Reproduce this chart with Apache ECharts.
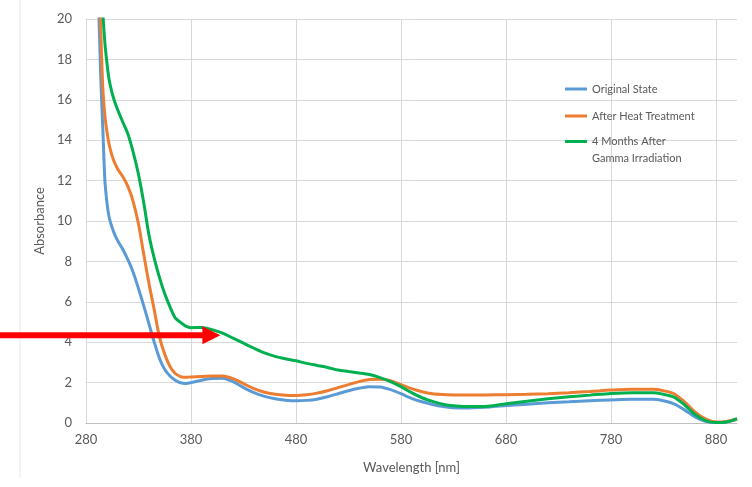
<!DOCTYPE html>
<html>
<head>
<meta charset="utf-8">
<script src="https://cdn.jsdelivr.net/npm/echarts@6.0.0/dist/echarts.min.js"></script>
<style>
  html, body { margin: 0; padding: 0; background: #fff; }
  #chart { width: 752px; height: 487px; }
</style>
</head>
<body>
<div id="chart"></div>
<script>
// wavelengths [nm] shared by all three spectra
var wavelengths = [290, 292, 294, 296, 298, 300, 302, 305, 308, 311, 315, 320, 325, 330, 335, 340, 345, 350, 355, 360,
  365, 370, 375, 380, 390, 400, 410, 420, 430, 440, 450, 460, 470, 480, 490, 500, 510, 520, 530, 540,
  550, 560, 570, 580, 590, 600, 610, 620, 630, 640, 660, 680, 700, 720, 740, 760, 780, 800, 820, 830,
  840, 850, 860, 870, 880, 890, 900];

var originalState = [25, 20.8, 17.2, 14.6, 12.0, 10.9, 10.2, 9.65, 9.25, 8.95, 8.6, 8.07, 7.45, 6.65, 5.8, 4.9, 4.0, 3.2, 2.65, 2.33,
  2.12, 1.99, 1.96, 2.0, 2.12, 2.2, 2.22, 2.05, 1.75, 1.5, 1.32, 1.2, 1.13, 1.1, 1.12, 1.18, 1.3, 1.45, 1.6, 1.72,
  1.8, 1.78, 1.65, 1.45, 1.22, 1.05, 0.92, 0.82, 0.76, 0.74, 0.78, 0.87, 0.93, 1.0, 1.05, 1.1, 1.14, 1.17, 1.17, 1.1,
  0.95, 0.65, 0.3, 0.08, 0.02, 0.05, 0.18];

var afterHeat = [26, 22.5, 19.5, 16.6, 15.2, 14.4, 13.8, 13.2, 12.8, 12.5, 12.2, 11.7, 10.95, 9.85, 8.35, 6.9, 5.6, 4.25, 3.4, 2.8,
  2.45, 2.3, 2.26, 2.28, 2.3, 2.33, 2.33, 2.2, 1.95, 1.7, 1.52, 1.42, 1.37, 1.36, 1.4, 1.48, 1.6, 1.75, 1.9, 2.05,
  2.15, 2.17, 2.1, 1.9, 1.7, 1.55, 1.45, 1.41, 1.39, 1.38, 1.39, 1.4, 1.42, 1.45, 1.5, 1.56, 1.63, 1.67, 1.67, 1.6,
  1.45, 1.05, 0.55, 0.2, 0.05, 0.08, 0.2];

var gammaMonths = [30, 26, 22, 20.3, 18.8, 17.8, 17.0, 16.3, 15.8, 15.4, 14.9, 14.3, 13.4, 12.3, 10.9, 9.3, 8.15, 7.2, 6.4, 5.75,
  5.2, 4.98, 4.8, 4.72, 4.73, 4.62, 4.45, 4.2, 3.95, 3.7, 3.47, 3.3, 3.18, 3.08, 2.95, 2.85, 2.75, 2.62, 2.55, 2.48,
  2.4, 2.25, 2.05, 1.8, 1.5, 1.25, 1.07, 0.93, 0.85, 0.82, 0.82, 0.95, 1.08, 1.2, 1.3, 1.38, 1.46, 1.5, 1.5, 1.42,
  1.28, 0.9, 0.42, 0.12, 0.02, 0.05, 0.22];

var seriesNames = ["Original State", "After Heat Treatment", "4 Months After\nGamma Irradiation"];
var seriesColors = ["#5B9BD5", "#ED7D31", "#00B050"];

// red arrow annotation tip (data coords)
var arrowTip = [408, 4.35];

function zip(xs, ys) {
  return xs.map(function (x, i) { return [x, ys[i]]; });
}

var chart = echarts.init(document.getElementById("chart"));
var font = "Lato, 'Liberation Sans', sans-serif";
var labelColor = "#595959";

// one legend box per entry, so the two-line entry keeps its line next to the first text line
function legendAt(name, top, lineHeight, formatter) {
  return {
    data: [name],
    orient: "vertical",
    left: 565,
    top: top,
    padding: 0,
    icon: "rect",
    itemWidth: 22,
    itemHeight: 3,
    selectedMode: false,
    formatter: formatter,
    textStyle: { color: labelColor, fontSize: 11, fontFamily: font, lineHeight: lineHeight }
  };
}

var allData = [originalState, afterHeat, gammaMonths];

chart.setOption({
  animation: false,
  backgroundColor: "#fff",
  grid: { left: 86, right: 15, top: 19, bottom: 64 },
  legend: [
    legendAt(seriesNames[0], 83, 12),
    legendAt(seriesNames[1], 110, 12),
    // leading blank line centres the first text line on the icon
    legendAt(seriesNames[2], 116, 17, function (name) { return " \n" + name; })
  ],
  xAxis: {
    type: "value",
    min: 280,
    max: 900,
    interval: 100,
    name: "Wavelength [nm]",
    nameLocation: "middle",
    nameGap: 38,
    nameTextStyle: { color: labelColor, fontSize: 13, fontFamily: font },
    axisLine: { show: true, lineStyle: { color: "#bfbfbf", width: 1 } },
    axisTick: { show: false },
    axisLabel: { color: labelColor, fontSize: 13, fontFamily: font, margin: 10, showMaxLabel: false },
    splitLine: { show: true, showMaxLine: false, lineStyle: { color: "#d9d9d9", width: 1 } }
  },
  yAxis: {
    type: "value",
    min: 0,
    max: 20,
    interval: 2,
    name: "Absorbance",
    nameLocation: "middle",
    nameGap: 36,
    nameTextStyle: { color: labelColor, fontSize: 13, fontFamily: font },
    axisLine: { show: true, lineStyle: { color: "#d9d9d9", width: 1 } },
    axisTick: { show: false },
    axisLabel: { color: labelColor, fontSize: 13, fontFamily: font, margin: 14 },
    splitLine: { show: true, lineStyle: { color: "#d9d9d9", width: 1 } }
  },
  series: seriesNames.map(function (name, i) {
    return {
      name: name,
      type: "line",
      data: zip(wavelengths, allData[i]),
      symbol: "none",
      smooth: 0.3,
      clip: true,
      color: seriesColors[i],
      lineStyle: { width: 3, color: seriesColors[i] },
      z: 2 + i
    };
  })
});

// arrow drawn from the left edge of the picture to the tip
var tip = chart.convertToPixel({ gridIndex: 0 }, arrowTip);
var headLen = 18, headHalf = 9, shaftHalf = 3;
chart.setOption({
  graphic: [
    {
      type: "line",
      shape: { x1: 20, y1: 0, x2: 20, y2: 478 },
      style: { stroke: "#e8e8e8", lineWidth: 1 },
      z: 0
    },
    {
      type: "rect",
      shape: { x: 0, y: tip[1] - shaftHalf, width: tip[0] - headLen + 1, height: shaftHalf * 2 },
      style: { fill: "#ff0000" },
      z: 100
    },
    {
      type: "polygon",
      shape: { points: [[tip[0] - headLen, tip[1] - headHalf], [tip[0], tip[1]], [tip[0] - headLen, tip[1] + headHalf]] },
      style: { fill: "#ff0000" },
      z: 100
    }
  ]
});
</script>
</body>
</html>
